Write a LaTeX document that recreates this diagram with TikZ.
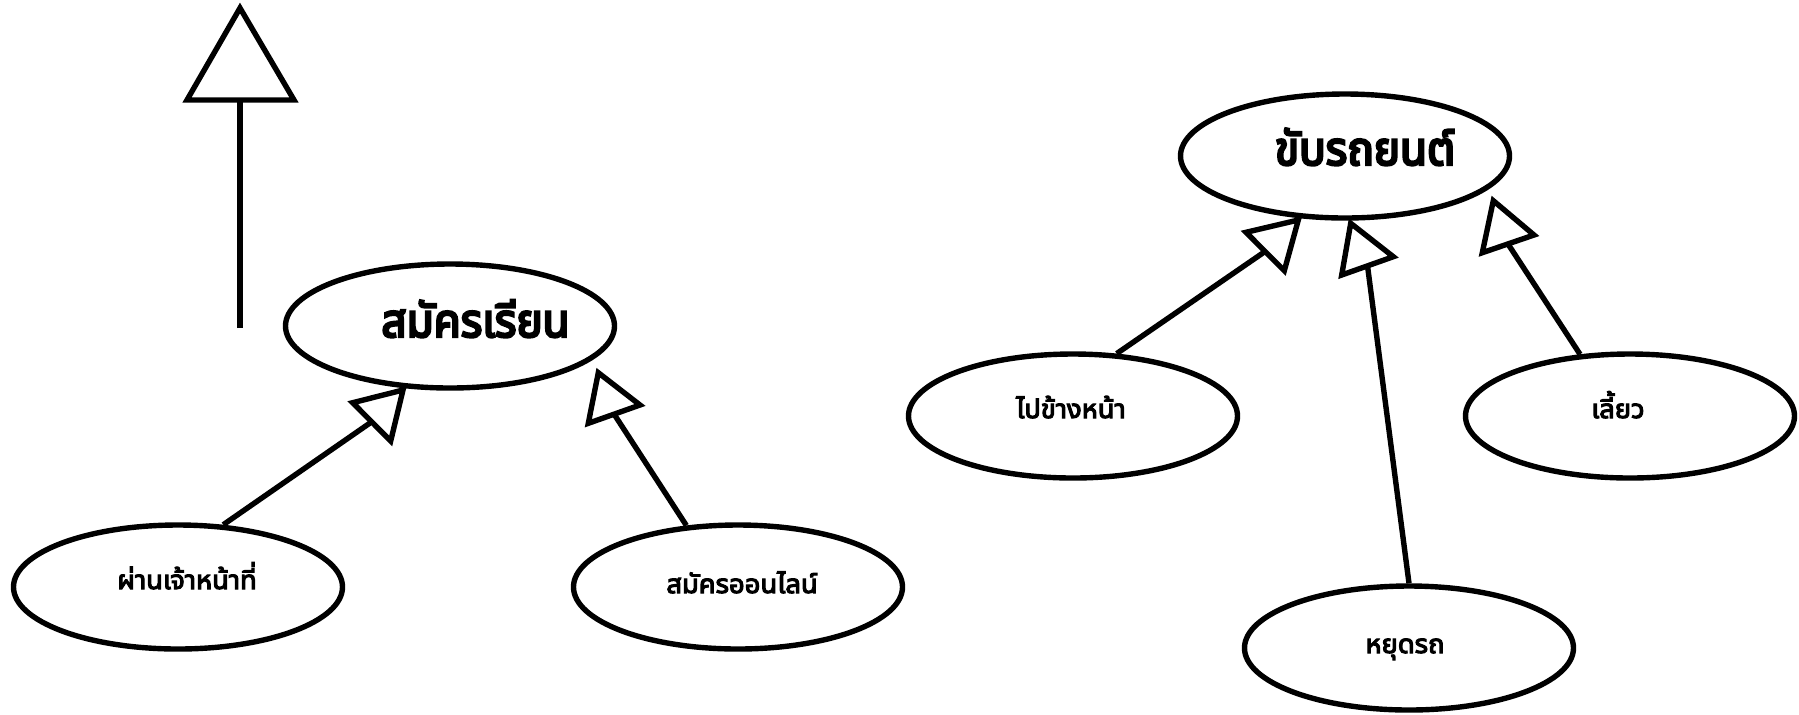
\documentclass[tikz,border=0pt]{standalone}
\usepackage{fontspec}
\usetikzlibrary{shapes.geometric}
\newfontfamily\thaibig[Script=Thai,FakeBold=5,FakeStretch=0.9]{Noto Sans Thai UI}
\newfontfamily\thaismall[Script=Thai,FakeBold=4]{Noto Sans Thai UI}
\begin{document}
\begin{tikzpicture}[x=0.5pt,y=-0.5pt,line width=2.7pt,
  ell/.style={draw,ellipse,minimum width=164.5pt,minimum height=62pt,inner sep=0pt},
  bigtxt/.style={anchor=base,inner sep=0pt,font=\thaibig\fontsize{24.5pt}{28pt}\selectfont},
  smalltxt/.style={anchor=base,inner sep=0pt,font=\thaismall\fontsize{13.7pt}{16pt}\selectfont},
  conn/.style={draw,line width=2.7pt},
  head/.style={draw,fill=white,line width=2.7pt}]
\useasboundingbox (0,0) rectangle (1799,714);
% ellipses
\node[ell] (reg) at (450,326) {};
\node[ell] (staff) at (178,587) {};
\node[ell] (online) at (738,587) {};
\node[ell] (drive) at (1345,156) {};
\node[ell] (fwd) at (1073,416) {};
\node[ell] (turn) at (1630,416) {};
\node[ell] (stop) at (1409,648) {};
% texts
\node[bigtxt] (regt) at (475.5,337) {สมัครเรียน};
\node[bigtxt] (drivet) at (1365,165) {ขับรถยนต์};
\node[smalltxt] (stafft) at (187,589) {ผ่านเจ้าหน้าที่};
\node[smalltxt] (onlinet) at (742,593) {สมัครออนไลน์};
\node[smalltxt] (fwdt) at (1071,418) {ไปข้างหน้า};
\node[smalltxt] (turnt) at (1618,418) {เลี้ยว};
\node[smalltxt] (stopt) at (1405,653) {หยุดรถ};
% top lone arrow
\coordinate (topapex) at (240,8);
\coordinate (topbase) at (240,100);
\coordinate (topend) at (240,328);
\draw[conn] (topend) -- (topbase);
\draw[head] (topapex) -- (187,100) -- (294,100) -- cycle;
% heads coordinates
\coordinate (h1m) at (371.7,421.8);
\coordinate (h2m) at (614,414);
\coordinate (h3m) at (1265,251.5);
\coordinate (h4m) at (1367.5,265.8);
\coordinate (h5m) at (1508,244);
% connectors
\draw[conn] (staff.54) -- (h1m);
\draw[head] (403,390) -- (352.7,402.7) -- (390.7,441) -- cycle;
\draw[conn] (online.130) -- (h2m);
\draw[head] (598.3,372.7) -- (588.3,423.3) -- (640,405) -- cycle;
\draw[conn] (fwd.55) -- (h3m);
\draw[head] (1298.3,220) -- (1246,232.3) -- (1284.3,270.7) -- cycle;
\draw[conn] (stop.north) -- (h4m);
\draw[head] (1350.7,223.3) -- (1341.7,275) -- (1393.3,256.7) -- cycle;
\draw[conn] (turn.129) -- (h5m);
\draw[head] (1493.3,200.7) -- (1482.3,252.7) -- (1534,235) -- cycle;
\end{tikzpicture}
\end{document}
